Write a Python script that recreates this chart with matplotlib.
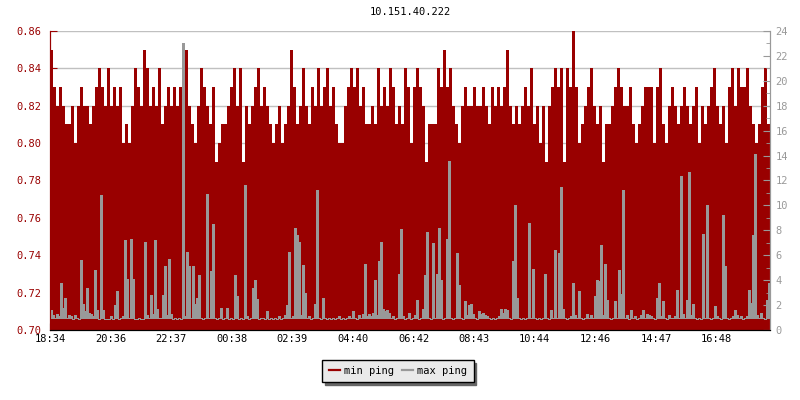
import numpy as np
import matplotlib
matplotlib.use("Agg")
import matplotlib.pyplot as plt
from matplotlib.lines import Line2D

plt.rcParams['font.family'] = ['DejaVu Sans Mono']

title = "10.151.40.222"
tick_labels = ["18:34", "20:36", "22:37", "00:38", "02:39", "04:40",
               "06:42", "08:43", "10:44", "12:46", "14:47", "16:48"]
tick_step_min = 121.2
span_min = 1440

# min ping (ms), one value per 6 minutes
min_ping = [
    0.85, 0.83, 0.82, 0.83, 0.82, 0.81, 0.81, 0.82, 0.80, 0.82, 0.83, 0.82, 0.82, 0.81, 0.82, 0.83, 0.84, 0.83, 0.82, 0.84,
    0.82, 0.83, 0.82, 0.83, 0.80, 0.81, 0.80, 0.82, 0.84, 0.83, 0.82, 0.85, 0.84, 0.82, 0.83, 0.82, 0.84, 0.81, 0.82, 0.83,
    0.82, 0.83, 0.82, 0.83, 0.84, 0.85, 0.82, 0.81, 0.80, 0.82, 0.84, 0.83, 0.82, 0.81, 0.83, 0.79, 0.80, 0.81, 0.81, 0.82,
    0.83, 0.84, 0.82, 0.84, 0.79, 0.82, 0.81, 0.82, 0.83, 0.84, 0.82, 0.83, 0.82, 0.81, 0.80, 0.81, 0.82, 0.80, 0.81, 0.82,
    0.85, 0.83, 0.81, 0.82, 0.84, 0.82, 0.81, 0.83, 0.82, 0.84, 0.82, 0.83, 0.84, 0.82, 0.83, 0.81, 0.80, 0.80, 0.82, 0.83,
    0.84, 0.83, 0.84, 0.82, 0.83, 0.81, 0.81, 0.82, 0.81, 0.84, 0.82, 0.83, 0.82, 0.84, 0.83, 0.81, 0.82, 0.81, 0.84, 0.83,
    0.80, 0.83, 0.84, 0.83, 0.82, 0.79, 0.81, 0.81, 0.81, 0.84, 0.83, 0.85, 0.83, 0.84, 0.82, 0.81, 0.80, 0.82, 0.83, 0.82,
    0.82, 0.83, 0.82, 0.82, 0.83, 0.82, 0.81, 0.83, 0.82, 0.83, 0.82, 0.83, 0.85, 0.82, 0.81, 0.82, 0.81, 0.82, 0.83, 0.82,
    0.84, 0.81, 0.82, 0.80, 0.82, 0.79, 0.82, 0.83, 0.84, 0.83, 0.84, 0.79, 0.84, 0.83, 0.86, 0.83, 0.80, 0.81, 0.82, 0.83,
    0.84, 0.82, 0.81, 0.82, 0.79, 0.81, 0.81, 0.82, 0.83, 0.84, 0.83, 0.82, 0.82, 0.83, 0.81, 0.80, 0.81, 0.82, 0.83, 0.83,
    0.83, 0.80, 0.83, 0.84, 0.81, 0.80, 0.82, 0.83, 0.82, 0.81, 0.82, 0.83, 0.82, 0.81, 0.82, 0.83, 0.80, 0.82, 0.81, 0.82,
    0.83, 0.84, 0.82, 0.81, 0.82, 0.80, 0.83, 0.84, 0.82, 0.84, 0.83, 0.83, 0.84, 0.82, 0.81, 0.80, 0.81, 0.83, 0.84, 0.81,
]

# max ping (ms), one value per 4 minutes
max_ping = [
    1.6, 1.2, 1.0, 1.3, 1.1, 3.8, 1.8, 2.6, 1.0, 1.2, 1.1, 0.9, 1.2, 1.0, 0.9, 5.6, 2.1, 1.5, 3.4, 1.4,
    1.3, 1.1, 4.8, 1.6, 0.9, 10.8, 1.6, 0.9, 0.9, 0.9, 1.1, 0.9, 2.0, 3.1, 0.9, 1.0, 1.1, 7.2, 4.1, 1.0,
    7.3, 4.1, 0.9, 0.9, 1.0, 0.9, 0.9, 7.1, 1.2, 1.0, 2.8, 1.3, 7.2, 1.7, 1.0, 1.0, 2.8, 5.1, 1.2, 5.7,
    1.3, 0.9, 1.0, 0.9, 1.0, 0.9, 23.0, 1.1, 6.3, 5.1, 1.0, 5.1, 2.1, 2.6, 4.4, 1.0, 0.9, 1.0, 10.9, 1.0,
    4.7, 8.5, 1.0, 0.9, 1.0, 1.8, 0.9, 1.0, 1.8, 0.9, 1.0, 0.9, 4.4, 2.7, 0.9, 1.0, 0.9, 11.6, 1.1, 0.9,
    1.0, 3.4, 4.0, 2.5, 0.9, 1.0, 1.0, 0.9, 1.5, 0.9, 1.0, 0.9, 1.0, 0.9, 1.1, 0.9, 1.0, 1.2, 2.0, 6.3,
    1.0, 1.1, 8.2, 7.6, 7.1, 1.2, 5.2, 3.0, 1.0, 1.1, 0.9, 1.0, 2.1, 11.2, 1.0, 0.9, 2.6, 1.0, 0.9, 1.0,
    0.9, 1.0, 0.9, 1.0, 1.1, 0.9, 1.0, 0.9, 1.0, 1.1, 1.0, 1.5, 1.0, 0.9, 1.2, 1.0, 1.3, 5.3, 1.1, 1.3,
    1.1, 1.4, 4.0, 1.2, 5.5, 7.1, 1.7, 1.5, 1.6, 1.4, 1.0, 1.1, 0.9, 1.0, 4.5, 8.1, 1.1, 0.9, 1.0, 1.4,
    0.9, 1.0, 1.2, 2.4, 0.9, 1.0, 1.7, 4.4, 7.9, 1.0, 0.9, 7.0, 1.0, 4.5, 8.2, 4.0, 0.9, 1.0, 7.3, 13.6,
    1.0, 0.9, 1.0, 6.2, 3.6, 1.0, 0.9, 2.3, 1.2, 2.0, 2.1, 1.3, 1.0, 0.9, 1.5, 1.3, 1.4, 1.2, 1.1, 1.0,
    0.9, 1.0, 0.9, 1.0, 1.1, 1.7, 1.4, 1.7, 1.6, 1.0, 0.9, 5.5, 10.0, 2.6, 1.0, 0.9, 1.0, 0.9, 1.0, 8.6,
    1.0, 4.9, 1.0, 0.9, 1.0, 0.9, 1.0, 4.5, 1.0, 0.9, 1.6, 1.0, 6.4, 1.0, 6.2, 11.5, 1.7, 1.0, 0.9, 1.0,
    1.1, 3.8, 1.2, 1.0, 3.1, 1.0, 0.9, 1.0, 1.3, 1.0, 1.2, 1.0, 2.7, 4.0, 3.9, 6.8, 1.2, 5.3, 2.4, 1.0,
    0.9, 1.0, 2.3, 1.0, 4.8, 2.9, 11.2, 1.0, 1.2, 0.9, 1.6, 1.0, 1.1, 0.9, 1.0, 1.2, 1.6, 1.0, 1.3, 1.2,
    1.1, 1.0, 0.9, 2.6, 3.8, 1.1, 2.3, 1.0, 0.9, 1.2, 1.0, 1.0, 1.1, 3.2, 1.0, 12.4, 1.3, 1.0, 2.4, 12.7,
    1.2, 2.1, 1.0, 0.9, 1.0, 0.9, 7.7, 1.0, 10.0, 1.0, 0.9, 1.0, 1.9, 1.1, 1.0, 0.9, 9.2, 5.1, 1.0, 0.9,
    1.0, 1.1, 1.6, 1.2, 1.0, 1.1, 0.9, 1.0, 1.1, 3.2, 2.2, 7.6, 14.1, 1.2, 1.0, 1.4, 1.0, 0.9, 2.4, 3.8,
]

red = "#990000"
gray = "#999999"

fig = plt.figure(figsize=(8, 4), dpi=100)
ax = fig.add_axes([0.0625, 0.175, 0.9, 0.7475])
ax2 = ax.twinx()

edges_min = np.linspace(0, span_min, len(min_ping) + 1)
edges_max = np.linspace(0, span_min, len(max_ping) + 1)

ax.set_axisbelow(True)
ax.yaxis.grid(True, color="#c0c0c0", lw=1)
ax.stairs(min_ping, edges_min, baseline=0.70, fill=True, color=red, lw=0, zorder=2)
# solid gray columns for the spikes, plus the thin step line on top
ax2.stairs(max_ping, edges_max, baseline=0.85, fill=True, color=gray, lw=0, antialiased=False)
ax2.stairs(max_ping, edges_max, baseline=None, color=gray, lw=0.5, antialiased=False)

ax.set_xlim(0, span_min)
ax.set_ylim(0.70, 0.86)
ax2.set_ylim(0, 24)

ax.set_xticks(np.arange(len(tick_labels)) * tick_step_min)
ax.set_xticklabels(tick_labels)
ax.set_yticks(np.arange(0.70, 0.8601, 0.02))
ax.set_yticklabels([f"{v:.2f}" for v in np.arange(0.70, 0.8601, 0.02)])
ax2.set_yticks(np.arange(0, 25, 2))
ax2.set_yticks(np.arange(0, 25, 1), minor=True)

ax.tick_params(axis="x", direction="in", length=5, color="black", labelsize=7.5, pad=3)
ax.tick_params(axis="y", direction="in", length=5, color=red, labelcolor=red, labelsize=7.5, pad=6)
ax2.tick_params(axis="y", which="major", direction="in", length=5, color=gray, labelcolor=gray, labelsize=7.5, pad=4)
ax2.tick_params(axis="y", which="minor", direction="in", length=3, color=gray)

for a in (ax, ax2):
    a.spines["top"].set_visible(False)
    a.spines["left"].set_color(red)
    a.spines["right"].set_color(gray)
    a.spines["bottom"].set_color("black")

fig.text(0.5125, 0.97, title, ha="center", va="center", fontsize=7.5)

handles = [Line2D([], [], color=red, lw=1.6), Line2D([], [], color=gray, lw=1.6)]
fig.legend(handles, ["min ping", "max ping"], loc="center", bbox_to_anchor=(0.4975, 0.0725),
           ncol=2, fontsize=7.5, frameon=True, fancybox=False, edgecolor="black",
           facecolor="#eaeaea", framealpha=1, shadow={"color": "#666666", "alpha": 1},
           handlelength=1.1, handletextpad=0.4, columnspacing=0.7, borderpad=0.6)

fig.savefig("out.png", dpi=100)
